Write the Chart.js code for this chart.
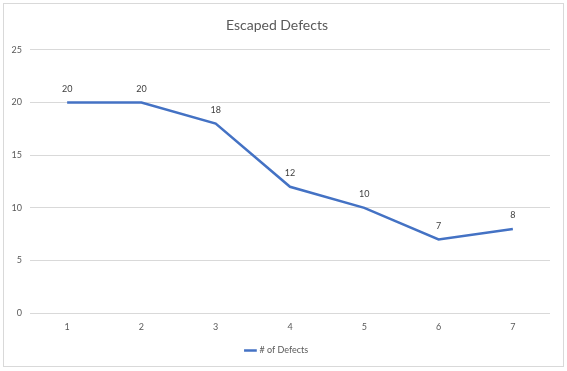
<!DOCTYPE html>
<html>
<head>
<meta charset="utf-8">
<script src="https://cdn.jsdelivr.net/npm/chart.js@4"></script>
<style>
  body { margin: 0; background: #fff; }
  #box { position: absolute; left: 3px; top: 3px; width: 559px; height: 362px; border: 1px solid #d9d9d9; }
</style>
</head>
<body>
<div id="box"><canvas id="chart" width="559" height="362"></canvas></div>
<script>
const categories = ['1', '2', '3', '4', '5', '6', '7'];
const defects = [20, 20, 18, 12, 10, 7, 8];
const seriesName = '# of Defects';
const titleText = 'Escaped Defects';

const textColor = '#595959';
const lineColor = '#4472C4';

// draw value labels above each point
const pointLabels = {
  id: 'pointLabels',
  afterDatasetsDraw(chart) {
    const ctx = chart.ctx;
    ctx.save();
    ctx.font = '9px Lato';
    ctx.fillStyle = '#404040';
    ctx.textAlign = 'center';
    ctx.textBaseline = 'bottom';
    chart.getDatasetMeta(0).data.forEach((pt, i) => {
      ctx.fillText(defects[i], pt.x, pt.y - 9);
    });
    ctx.restore();
  }
};

new Chart(document.getElementById('chart'), {
  type: 'line',
  data: {
    labels: categories,
    datasets: [{
      label: seriesName,
      data: defects,
      borderColor: lineColor,
      backgroundColor: lineColor,
      borderWidth: 2.5,
      pointRadius: 0,
      tension: 0
    }]
  },
  options: {
    responsive: false,
    animation: false,
    layout: { padding: { left: 0, right: 13, top: 13, bottom: 1 } },
    plugins: {
      title: {
        display: true,
        text: titleText,
        color: textColor,
        font: { family: 'Lato', size: 14, weight: 'normal' },
        padding: { top: 0, bottom: 16 }
      },
      legend: {
        position: 'bottom',
        labels: {
          color: textColor,
          font: { family: 'Lato', size: 9 },
          usePointStyle: true,
          pointStyle: 'line',
          boxWidth: 22,
          padding: 14
        }
      },
      tooltip: { enabled: false }
    },
    scales: {
      x: {
        offset: true,
        grid: { display: false },
        border: { display: false },
        ticks: { color: textColor, font: { family: 'Lato', size: 9 }, padding: 0 }
      },
      y: {
        min: 0,
        max: 25,
        ticks: { stepSize: 5, color: textColor, font: { family: 'Lato', size: 9 }, padding: 8 },
        grid: { color: '#d9d9d9', drawTicks: false },
        border: { display: false },
        afterFit(scale) { scale.width = 26; }
      }
    }
  },
  plugins: [pointLabels]
});
</script>
</body>
</html>
